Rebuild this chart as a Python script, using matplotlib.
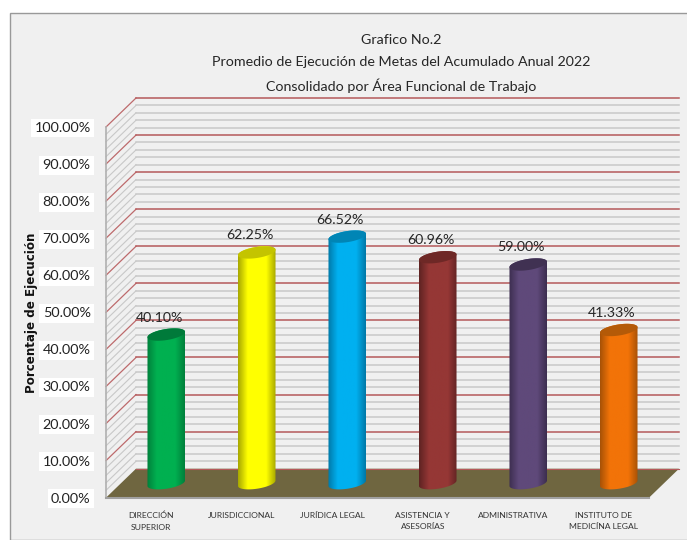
import numpy as np
import matplotlib
matplotlib.use('Agg')
import matplotlib.pyplot as plt
from matplotlib.colors import LinearSegmentedColormap
from matplotlib.patches import Polygon, Rectangle, PathPatch
from matplotlib.path import Path

plt.rcParams['font.family'] = ['Lato', 'DejaVu Sans']

# Data
categories = ['DIRECCIÓN\nSUPERIOR', 'JURISDICCIONAL', 'JURÍDICA LEGAL',
              'ASISTENCIA Y\nASESORÍAS', 'ADMINISTRATIVA', 'INSTITUTO DE\nMEDICÍNA LEGAL']
values = [40.10, 62.25, 66.52, 60.96, 59.00, 41.33]
major_ticks = [0, 10, 20, 30, 40, 50, 60, 70, 80, 90, 100]
minor_ticks = [2, 4, 6, 8, 12, 14, 16, 18, 22, 24, 26, 28, 32, 34, 36, 38, 42, 44, 46, 48,
               52, 54, 56, 58, 62, 64, 66, 68, 72, 74, 76, 78, 82, 84, 86, 88, 92, 94, 96, 98]
title_lines = ['Grafico No.2', 'Promedio de Ejecución de Metas del Acumulado Anual 2022',
               'Consolidado por Área Funcional de Trabajo']
base_colors = ['#00b050', '#ffff00', '#00b0f0', '#953735', '#5f497a', '#f27308']
edge_colors = ['#00803c', '#a8a800', '#0079a8', '#5f2322', '#3d2e50', '#a85206']
top_colors = ['#007a3a', '#c4c400', '#0085b5', '#6e2826', '#403152', '#b45a08']

W, H = 687, 540
fig = plt.figure(figsize=(W / 100, H / 100), dpi=100, facecolor='white')

# Grey panel behind the chart
fig.patches.append(Rectangle((9.5 / W, 0), 1, 1 - 12.5 / H, transform=fig.transFigure,
                             facecolor='#f0f0f0', edgecolor='#999999', lw=1, zorder=-1))

# Axes is the front plane of the 3D box
left, right, bottom, top = 106, 649, 497.7, 127
ax = fig.add_axes([left / W, 1 - bottom / H, (right - left) / W, (bottom - top) / H])
ax.patch.set_alpha(0)
for s in ax.spines.values():
    s.set_visible(False)

sx = 6 / (right - left)   # data units per pixel
sy = 100 / (bottom - top)
dx = 30 * sx              # depth of the box
dy = 29 * sy

# Walls: grid lines run along the side wall and then the back wall
for v in minor_ticks:
    ax.plot([0, dx], [v, v + dy], color='#c8c8c8', lw=0.8, clip_on=False, zorder=1)
    ax.plot([dx, 6 + dx], [v + dy, v + dy], color='#c8c8c8', lw=1.1, clip_on=False, zorder=1)
for v in major_ticks[1:]:
    ax.plot([0, dx], [v, v + dy], color='#bd6a6c', lw=0.9, clip_on=False, zorder=2)
    ax.plot([dx, 6 + dx], [v + dy, v + dy], color='#b5595b', lw=1.1, clip_on=False, zorder=2)
ax.plot([0, 0], [0, 100], color='#b0b0b0', lw=1.2, clip_on=False, zorder=2)

# Floor
ax.add_patch(Polygon([(0, 0), (dx, dy), (6 + dx, dy), (6, 0)], closed=True, facecolor='#6f6640',
                     edgecolor='none', clip_on=False, zorder=3))
ax.plot([0, 6], [0, 0], color='#a0a0a0', lw=1.5, clip_on=False, zorder=3)
ax.plot([dx, 6 + dx], [dy, dy], color='#b5595b', lw=0.8, clip_on=False, zorder=3)

# Cylinders, tilted ellipses at both ends and a horizontal gradient on the side
rx, ry, tilt = 19, 5.5, np.radians(9)


def ellipse(cx, cy, t):
    px = rx * np.cos(t) * np.cos(tilt) - ry * np.sin(t) * np.sin(tilt)
    py = rx * np.cos(t) * np.sin(tilt) + ry * np.sin(t) * np.cos(tilt)
    return cx + px * sx, cy + py * sy


for i, v in enumerate(values):
    cx = i + 0.5 + dx / 2
    y0 = dy / 2
    y1 = y0 + v
    t_low = np.linspace(np.pi, 2 * np.pi, 40)
    t_up = np.linspace(0, np.pi, 40)
    xb, yb = ellipse(cx, y0, t_low)
    xt, yt = ellipse(cx, y1, t_up)
    verts = np.r_[np.c_[xb, yb], np.c_[xt, yt]]
    outline = PathPatch(Path(np.r_[verts, verts[:1]], closed=True), transform=ax.transData,
                        facecolor='none', edgecolor='none')
    ax.add_patch(outline)
    cmap = LinearSegmentedColormap.from_list('cyl', [edge_colors[i], base_colors[i], base_colors[i],
                                                     base_colors[i], edge_colors[i]])
    im = ax.imshow(np.linspace(0, 1, 64).reshape(1, -1), cmap=cmap, aspect='auto', zorder=4,
                   extent=[cx - rx * sx, cx + rx * sx, y0 - 10 * sy, y1 + 10 * sy], clip_on=True)
    im.set_clip_path(outline)
    xc, yc = ellipse(cx, y1, np.linspace(0, 2 * np.pi, 80))
    ax.add_patch(Polygon(np.c_[xc, yc], closed=True, facecolor=top_colors[i], edgecolor='none',
                         clip_on=False, zorder=5))
    ax.annotate(f'{v:.2f}%', (cx, y1), xytext=(-7, 17), textcoords='offset pixels', ha='center',
                va='center', fontsize=10.2, color='#262626', zorder=6, annotation_clip=False)

ax.set_xlim(0, 6)
ax.set_ylim(0, 100)
ax.set_xticks(np.arange(6) + 0.5, categories)
ax.set_yticks(major_ticks, [f'{t:.2f}%' for t in major_ticks])
ax.tick_params(axis='x', length=0, pad=10, labelsize=6.1, labelcolor='#333333')
ax.tick_params(axis='y', length=0, pad=11, labelsize=10.4, labelcolor='#222222')
for lab in ax.get_yticklabels():
    lab.set_bbox(dict(facecolor='white', edgecolor='none', pad=2.5))
for lab in ax.get_xticklabels():
    lab.set_linespacing(1.75)

fig.text(31 / W, 1 - 313 / H, 'Porcentaje de Ejecución', rotation=90, ha='center', va='center',
         fontsize=8.6, fontweight='bold', family='DejaVu Sans', color='#111111')

for line, y in zip(title_lines, [40, 62, 86]):
    fig.text(401 / W, 1 - y / H, line, ha='center', va='center', fontsize=10.3, color='#262626')

fig.savefig('out.png', dpi=100)
